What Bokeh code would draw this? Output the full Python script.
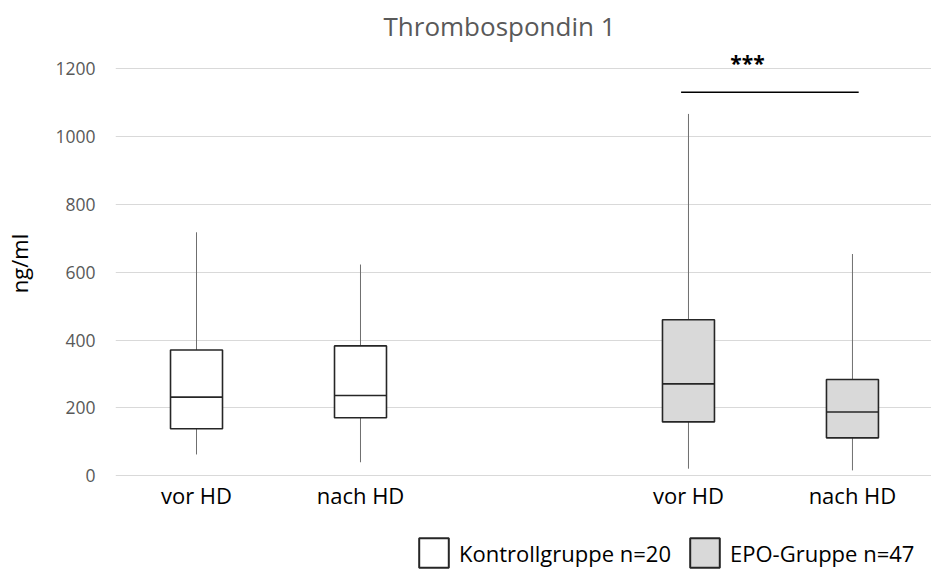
from bokeh.plotting import figure
from bokeh.layouts import column
from bokeh.models import Range1d, FixedTicker, Legend, LegendItem, ColumnDataSource
from bokeh.embed import file_html
from bokeh.resources import INLINE
from bokeh.core.properties import value

# ---- data ----
categories = ["vor HD", "nach HD", "vor HD", "nach HD"]
positions = [0, 1, 3, 4]
groups = ["Kontrollgruppe n=20", "Kontrollgruppe n=20", "EPO-Gruppe n=47", "EPO-Gruppe n=47"]
whisker_low = [63, 40, 21, 16]
q1 = [139, 171, 159, 112]
median = [232, 237, 271, 188]
q3 = [371, 383, 460, 284]
whisker_high = [718, 623, 1067, 654]
fill_colors = ["#ffffff", "#ffffff", "#d9d9d9", "#d9d9d9"]
y_ticks = [0, 200, 400, 600, 800, 1000, 1200]

sig_x0 = [2.955]
sig_x1 = [4.038]
sig_y = [1131]
sig_text_x = [3.36]
sig_text_y = [1216]
sig_text = ["***"]

FONT = "Open Sans"
BOX_W = 0.317

p = figure(width=931, height=520, output_backend="svg", toolbar_location=None,
           x_range=Range1d(-0.494, 4.482), y_range=Range1d(-2, 1254),
           min_border_left=115, min_border_right=0, min_border_top=50, min_border_bottom=44,
           title="Thrombospondin 1")
p.title.text_font = FONT
p.title.text_font_size = "26px"
p.title.text_font_style = "normal"
p.title.text_color = "#595959"
p.title.align = "left"
p.title.offset = 268
p.title.standoff = 10
p.title.vertical_align = "top"
p.outline_line_color = None
p.background_fill_color = "#ffffff"
p.border_fill_color = "#ffffff"

# grid
p.xgrid.grid_line_color = None
p.ygrid.grid_line_color = "#d9d9d9"
p.ygrid.grid_line_width = 1
p.ygrid.ticker = FixedTicker(ticks=y_ticks)

# axes
p.yaxis.ticker = FixedTicker(ticks=y_ticks)
p.yaxis.axis_line_color = None
p.yaxis.major_tick_line_color = None
p.yaxis.minor_tick_line_color = None
p.yaxis.major_label_text_font = FONT
p.yaxis.major_label_text_font_size = "17.5px"
p.yaxis.major_label_text_color = "#595959"
p.yaxis.major_label_standoff = 14
p.yaxis.axis_label = "ng/ml"
p.yaxis.axis_label_text_font = FONT
p.yaxis.axis_label_text_font_size = "22px"
p.yaxis.axis_label_text_font_style = "normal"
p.yaxis.axis_label_text_color = "#000000"
p.yaxis.axis_label_standoff = 18

p.xaxis.ticker = FixedTicker(ticks=positions)
p.xaxis.major_label_overrides = {pos: lab for pos, lab in zip(positions, categories)}
p.xaxis.axis_line_color = None
p.xaxis.major_tick_line_color = None
p.xaxis.minor_tick_line_color = None
p.xaxis.major_label_text_font = FONT
p.xaxis.major_label_text_font_size = "22px"
p.xaxis.major_label_text_color = "#000000"
p.xaxis.major_label_standoff = -3

src = ColumnDataSource(dict(x=positions, lo=whisker_low, q1=q1, med=median, q3=q3, hi=whisker_high,
                            fill=fill_colors, grp=groups,
                            left=[x - BOX_W / 2 for x in positions],
                            right=[x + BOX_W / 2 for x in positions]))

# whiskers
p.segment(x0="x", y0="q3", x1="x", y1="hi", source=src, line_color="#6f6f6f", line_width=1)
p.segment(x0="x", y0="lo", x1="x", y1="q1", source=src, line_color="#6f6f6f", line_width=1)
# boxes
p.vbar(x="x", width=BOX_W, bottom="q1", top="q3", source=src, fill_color="fill",
       line_color="#262626", line_width=1.6)
# medians
p.segment(x0="left", y0="med", x1="right", y1="med", source=src, line_color="#262626", line_width=1.6)

# significance
p.segment(x0=sig_x0, y0=sig_y, x1=sig_x1, y1=sig_y, line_color="#000000", line_width=1.6)
p.text(x=sig_text_x, y=sig_text_y, text=sig_text, text_font=value(FONT), text_font_size="21px",
       text_font_style="bold", text_align="center", text_baseline="middle", text_color="#000000")

# ---- legend strip ----
lg = figure(width=931, height=50, output_backend="svg", toolbar_location=None,
            x_range=Range1d(0, 1), y_range=Range1d(0, 1),
            min_border_left=115, min_border_right=0, min_border_top=0, min_border_bottom=0)
lg.axis.visible = False
lg.grid.visible = False
lg.outline_line_color = None
# legend proxies, placed outside the strip's visible range
r_ctrl = lg.quad(left=[5], right=[6], top=[6], bottom=[5], fill_color=fill_colors[0],
                 line_color="#262626", line_width=2)
r_epo = lg.quad(left=[5], right=[6], top=[6], bottom=[5], fill_color=fill_colors[2],
                line_color="#262626", line_width=2)
legend = Legend(items=[LegendItem(label=groups[0], renderers=[r_ctrl]),
                       LegendItem(label=groups[2], renderers=[r_epo])],
                orientation="horizontal", location=(300, -1),
                glyph_width=37, glyph_height=37, label_text_font=FONT, label_text_font_size="22px",
                label_text_color="#000000", border_line_color=None, background_fill_alpha=0,
                spacing=15, padding=0, margin=0, label_standoff=7)
lg.add_layout(legend)

layout = column(p, lg, spacing=0)
open("out.html", "w").write(file_html(layout, INLINE))
